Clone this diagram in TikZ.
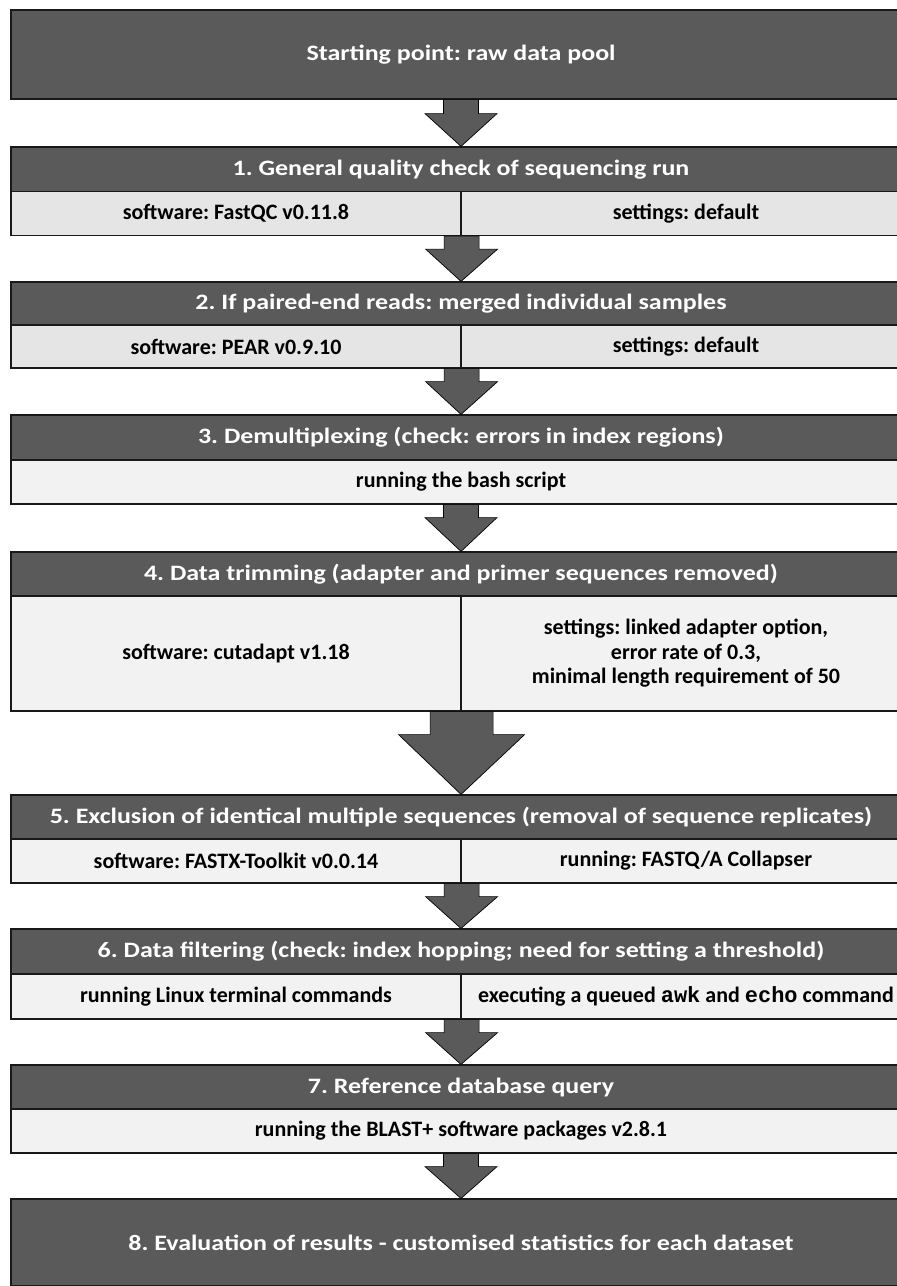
\documentclass[tikz,border=0pt]{standalone}
\usepackage{fontspec}
\setmainfont{Carlito}
\newfontfamily\headfont{Carlito}[FakeStretch=1.18]
\newfontfamily\codefont{Liberation Mono}
\usepackage{xcolor}
\usepackage{tikz}
\usetikzlibrary{calc}
\frenchspacing

\definecolor{headgray}{RGB}{90,90,90}
\definecolor{subdark}{RGB}{228,229,228}
\definecolor{sublight}{RGB}{242,242,242}

\begin{document}
\begin{tikzpicture}[
    x=1pt, y=-1pt,
    head_node/.style={
        rectangle,
        draw=black!90,
        fill=headgray,
        line width=1.2pt,
        minimum width=900pt,
        minimum height=45pt,
        inner sep=0pt,
        align=center,
        text=white,
        font=\headfont\bfseries\fontsize{22}{26}\selectfont
    },
    sub_node/.style={
        rectangle,
        draw=black!90,
        fill=sublight,
        line width=1.2pt,
        minimum width=900pt,
        minimum height=44pt,
        inner sep=0pt,
        align=center,
        font=\bfseries\fontsize{22}{24.5}\selectfont
    },
    half_node/.style={sub_node, minimum width=450pt},
    flow_arrow/.style n args={3}{
        fill=headgray,
        draw=black,
        line width=0.7pt,
        to path={let \p1=(\tikztostart), \p2=(\tikztotarget) in
            (\x1-#1,\y1) -- (\x1-#1,\y1-#3) -- (\x1-#2,\y1-#3) -- (\x2,\y2)
            -- (\x1+#2,\y1-#3) -- (\x1+#1,\y1-#3) -- (\x1+#1,\y1) -- cycle}
    }
]
    \useasboundingbox (0,0) rectangle (897,1286);

    % Steps
    \node[head_node, minimum height=89pt] (start) at (461, 54.5) {Starting point: raw data pool};

    \node[head_node] (h1) at (461, 169.5) {1. General quality check of sequencing run};
    \node[half_node, fill=subdark] (s1l) at (236, 213.5) {software: FastQC v0.11.8};
    \node[half_node, fill=subdark] (s1r) at (686, 213.5) {settings: default};

    \node[head_node, minimum height=43pt] (h2) at (461, 303.5) {2. If paired-end reads: merged individual samples};
    \node[half_node, fill=subdark, minimum height=43pt] (s2l) at (236, 346.5) {software: PEAR v0.9.10};
    \node[half_node, fill=subdark, minimum height=43pt] (s2r) at (686, 346.5) {settings: default};

    \node[head_node] (h3) at (461, 437.5) {3. Demultiplexing (check: errors in index regions)};
    \node[sub_node] (s3) at (461, 482) {running the bash script};

    \node[head_node, minimum height=44pt] (h4) at (461, 574) {4. Data trimming (adapter and primer sequences removed)};
    \node[half_node, minimum height=115pt] (s4l) at (236, 653.5) {software: cutadapt v1.18};
    \node[half_node, minimum height=115pt] (s4r) at (686, 653.5) {settings: linked adapter option,\\ error rate of 0.3,\\ minimal length requirement of 50};

    \node[head_node, minimum height=44pt] (h5) at (461, 817) {5. Exclusion of identical multiple sequences (removal of sequence replicates)};
    \node[half_node] (s5l) at (236, 861) {software: FASTX-Toolkit v0.0.14};
    \node[half_node] (s5r) at (686, 861) {running: FASTQ/A Collapser};

    \node[head_node] (h6) at (461, 951.5) {6. Data filtering (check: index hopping; need for setting a threshold)};
    \node[half_node, minimum height=45pt] (s6l) at (236, 996.5) {running Linux terminal commands};
    \node[half_node, minimum height=45pt] (s6r) at (686, 996.5) {executing a queued {\codefont awk} and {\codefont echo} command};

    \node[head_node, minimum height=44pt] (h7) at (461, 1087) {7. Reference database query};
    \node[sub_node] (s7) at (461, 1131) {running the BLAST+ software packages v2.8.1};

    \node[head_node, minimum height=87pt] (finish) at (461, 1242.5) {8. Evaluation of results - customised statistics for each dataset};

    % Arrows
    \draw[flow_arrow={17.5pt}{36pt}{14pt}] (start.south) to (h1.north);
    \draw[flow_arrow={17.5pt}{36pt}{13pt}] (s1l.south east) to (h2.north);
    \draw[flow_arrow={17.5pt}{36pt}{13pt}] (s2l.south east) to (h3.north);
    \draw[flow_arrow={17.5pt}{36pt}{13pt}] (s3.south) to (h4.north);
    \draw[flow_arrow={31.5pt}{63pt}{23pt}] (s4l.south east) to (h5.north);
    \draw[flow_arrow={17.5pt}{36pt}{13pt}] (s5l.south east) to (h6.north);
    \draw[flow_arrow={17.5pt}{36pt}{13pt}] (s6l.south east) to (h7.north);
    \draw[flow_arrow={17.5pt}{36pt}{13pt}] (s7.south) to (finish.north);

\end{tikzpicture}
\end{document}
